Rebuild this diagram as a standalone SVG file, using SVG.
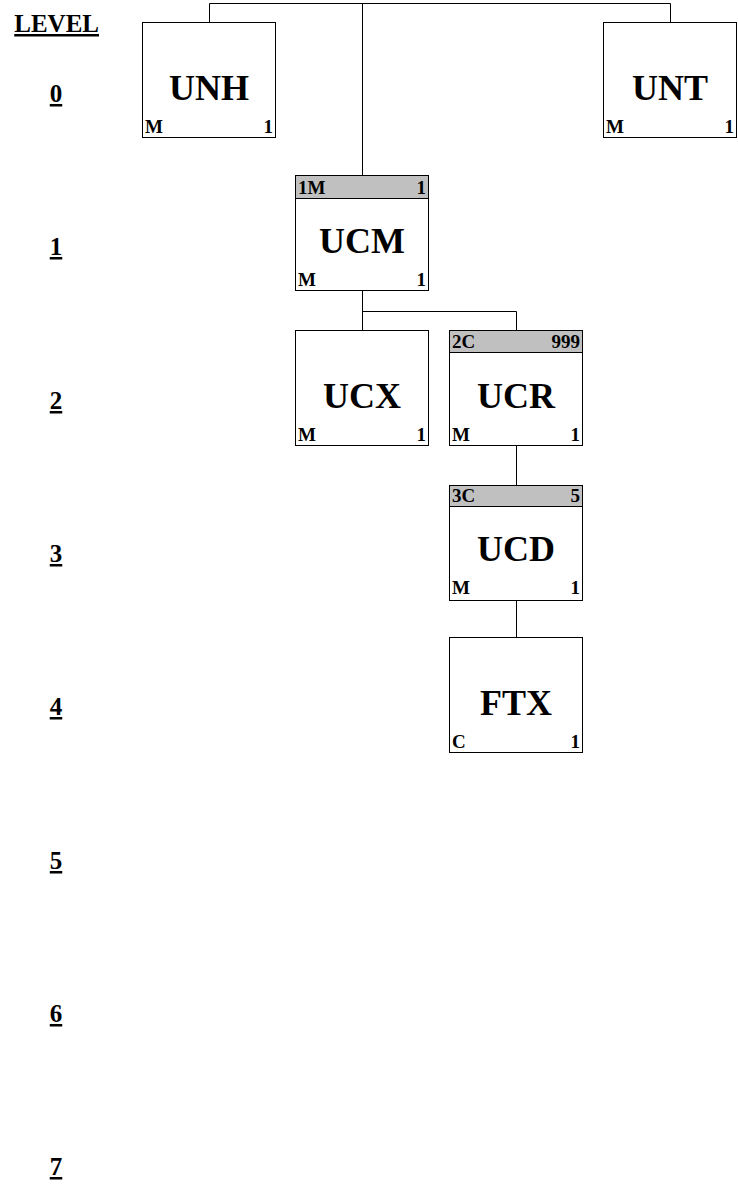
<svg xmlns="http://www.w3.org/2000/svg" width="738" height="1187" viewBox="0 0 738 1187">
<style>
text{font-family:"Liberation Serif","Times New Roman",serif;font-weight:bold;fill:#000}
.box{fill:#fff;stroke:#000;stroke-width:1}
.hdr{fill:#c0c0c0;stroke:#000;stroke-width:1}
.big{font-size:36px;text-anchor:middle}
.sm{font-size:19px}
.r{text-anchor:end}
.lvl{font-size:25px;text-decoration:underline;text-anchor:end}
.dg{font-size:25px;text-anchor:middle;text-decoration:underline}
.conn{fill:none;stroke:#000;stroke-width:1}
</style>
<rect width="738" height="1187" fill="#fff"/>
<g id="levels">
<text class="lvl" x="99" y="32">LEVEL</text>
<text class="dg" x="56" y="102">0</text>
<text class="dg" x="56" y="255">1</text>
<text class="dg" x="56" y="409">2</text>
<text class="dg" x="56" y="562">3</text>
<text class="dg" x="56" y="715">4</text>
<text class="dg" x="56" y="869">5</text>
<text class="dg" x="56" y="1022">6</text>
<text class="dg" x="56" y="1175">7</text>
</g>
<g id="connectors">
<polyline class="conn" points="209.5,22 209.5,3.5 670.5,3.5 670.5,22"/>
<line class="conn" x1="362.5" y1="3.5" x2="362.5" y2="175"/>
<line class="conn" x1="362.5" y1="291" x2="362.5" y2="330"/>
<polyline class="conn" points="362.5,311.5 516.5,311.5 516.5,330"/>
<line class="conn" x1="516.5" y1="445" x2="516.5" y2="485"/>
<line class="conn" x1="516.5" y1="600" x2="516.5" y2="637"/>
</g>
<g id="UNH">
<rect class="box" x="142.5" y="22.5" width="133" height="115"/>
<text class="big" x="209" y="100">UNH</text>
<text class="sm" x="145" y="133">M</text>
<text class="sm r" x="273" y="133">1</text>
</g>
<g id="UNT">
<rect class="box" x="603.5" y="22.5" width="133" height="115"/>
<text class="big" x="670" y="100">UNT</text>
<text class="sm" x="606" y="133">M</text>
<text class="sm r" x="734" y="133">1</text>
</g>
<g id="UCM">
<rect class="box" x="295.5" y="175.5" width="133" height="115"/>
<rect class="hdr" x="295.5" y="175.5" width="133" height="23"/>
<text class="sm" x="298" y="194">1M</text>
<text class="sm r" x="426" y="194">1</text>
<text class="big" x="362" y="253">UCM</text>
<text class="sm" x="298" y="286">M</text>
<text class="sm r" x="426" y="286">1</text>
</g>
<g id="UCX">
<rect class="box" x="295.5" y="330.5" width="133" height="115"/>
<text class="big" x="362" y="408">UCX</text>
<text class="sm" x="298" y="441">M</text>
<text class="sm r" x="426" y="441">1</text>
</g>
<g id="UCR">
<rect class="box" x="449.5" y="330.5" width="133" height="115"/>
<rect class="hdr" x="449.5" y="330.5" width="133" height="22"/>
<text class="sm" x="452" y="348">2C</text>
<text class="sm r" x="580" y="348">999</text>
<text class="big" x="516" y="408">UCR</text>
<text class="sm" x="452" y="441">M</text>
<text class="sm r" x="580" y="441">1</text>
</g>
<g id="UCD">
<rect class="box" x="449.5" y="485.5" width="133" height="115"/>
<rect class="hdr" x="449.5" y="485.5" width="133" height="21"/>
<text class="sm" x="452" y="502">3C</text>
<text class="sm r" x="580" y="502">5</text>
<text class="big" x="516" y="561">UCD</text>
<text class="sm" x="452" y="594">M</text>
<text class="sm r" x="580" y="594">1</text>
</g>
<g id="FTX">
<rect class="box" x="449.5" y="637.5" width="133" height="115"/>
<text class="big" x="516" y="715">FTX</text>
<text class="sm" x="452" y="748">C</text>
<text class="sm r" x="580" y="748">1</text>
</g>
</svg>
